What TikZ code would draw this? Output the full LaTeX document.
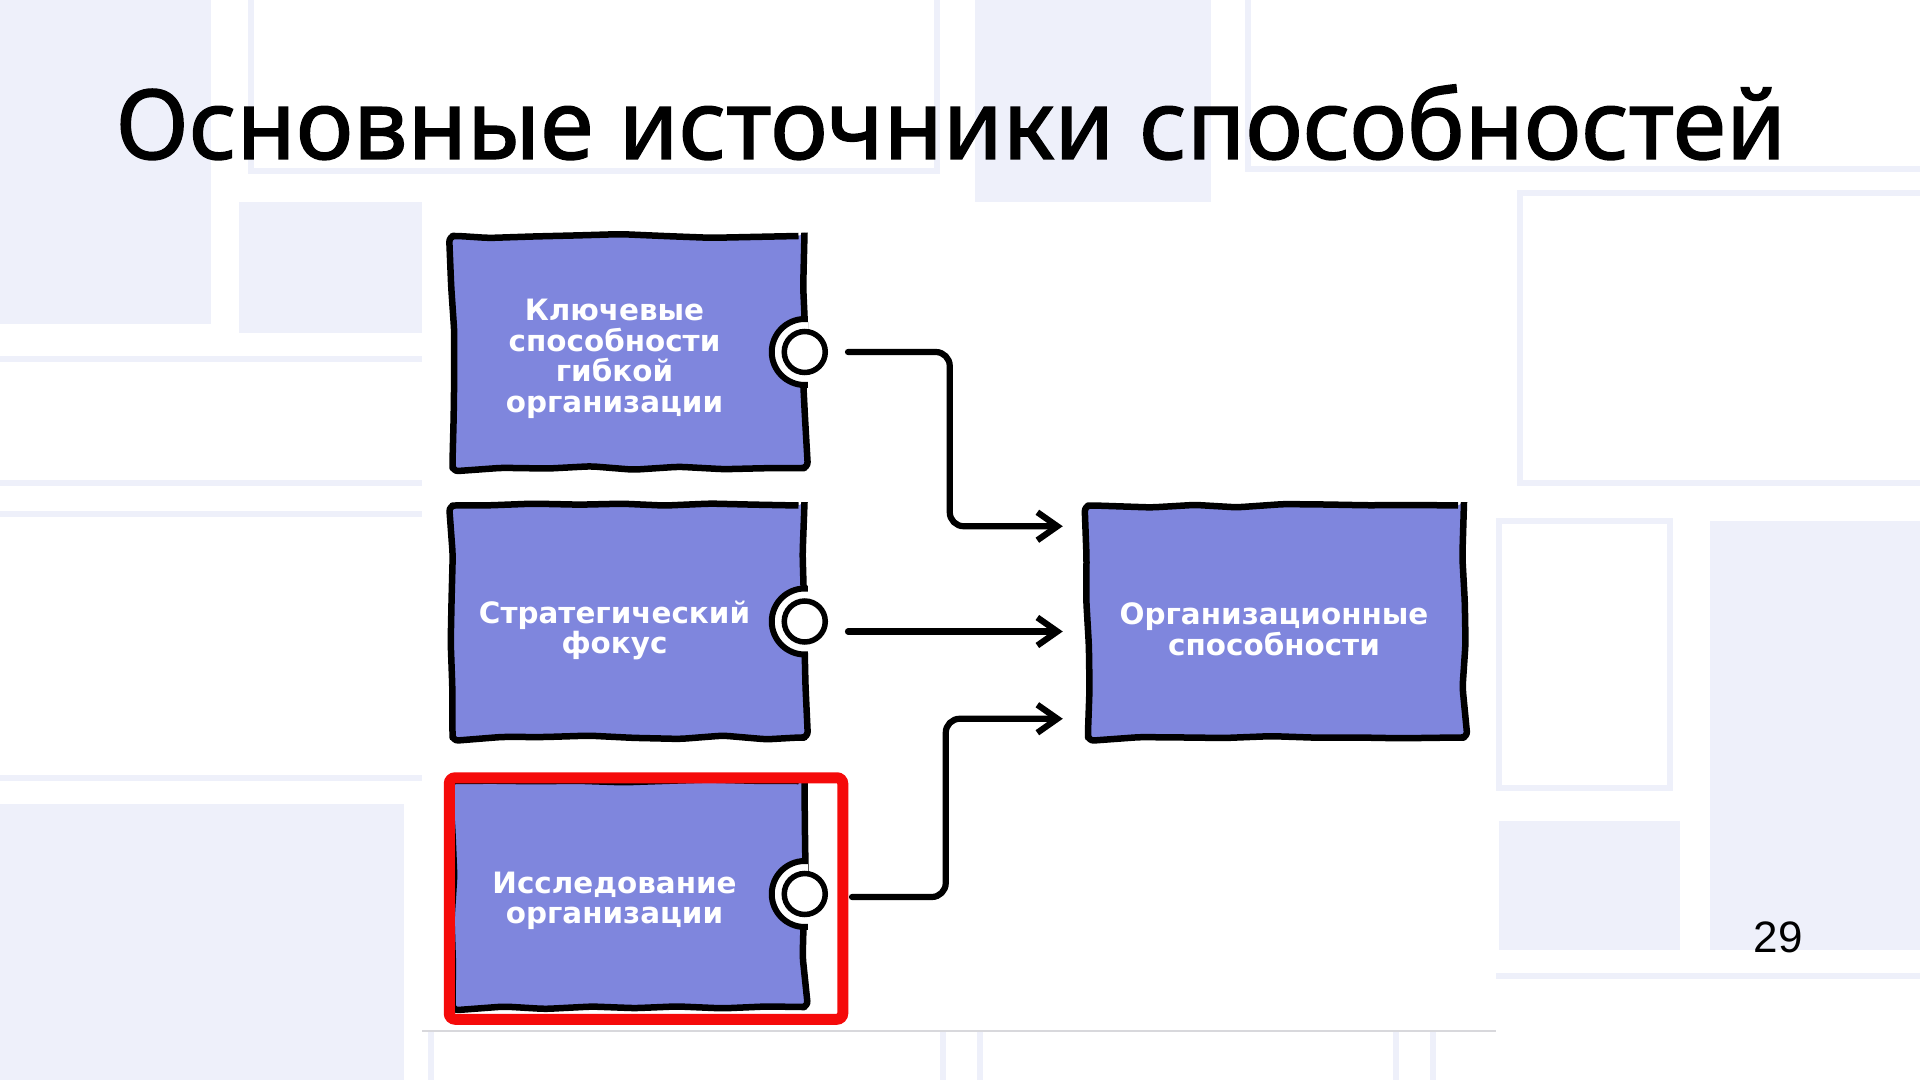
\documentclass[tikz,border=0pt]{standalone}
\usepackage{fontspec}
\setmainfont{DejaVu Sans}
\newfontfamily\titlefont{Noto Sans}[FakeBold=1.5]
\newfontfamily\numfont{Liberation Sans}
\usetikzlibrary{arrows.meta,positioning,decorations.pathmorphing}

\definecolor{cardblue}{HTML}{7F86DD}
\definecolor{bglav}{HTML}{EEF0FA}
\definecolor{markred}{HTML}{F50A0A}
\definecolor{panelgray}{HTML}{D8D8DC}

\begin{document}
\pgfmathsetseed{12}
\begin{tikzpicture}[
  x=0.5pt, y=-0.5pt,
  >={Straight Barb[length=10pt, width=14pt]},
  every node/.style={font=\bfseries\fontsize{14.7}{15.3}\selectfont},
  card/.style={draw, line width=3.25pt, fill=cardblue, minimum width=176pt,
               minimum height=116pt, line join=round,
               decorate, decoration={random steps, segment length=22pt, amplitude=1pt},
               rounded corners=3pt},
  cardtext/.style={text=white, align=center, inner sep=0pt},
  notch/.style={circle, fill=white, draw, line width=3pt, minimum size=33pt, inner sep=0pt},
  port/.style={circle, fill=white, draw, line width=2.75pt, minimum size=20.5pt, inner sep=0pt},
  link/.style={->, line width=3.1pt, rounded corners=7pt, line cap=round},
  bgfill/.style={fill=bglav},
  bgline/.style={draw=bglav, line width=3pt, line cap=round},
  highlight/.style={draw=markred, line width=5.5pt, rounded corners=3pt},
]
\useasboundingbox (0,0) rectangle (1920,1080);

% background pattern
\fill[white] (0,0) rectangle (1920,1080);
\fill[bgfill] (0,0) rectangle (211,324);
\fill[bgfill] (239,202) rectangle (422,333);
\fill[bgfill] (975,0) rectangle (1211,202);
\fill[bgfill] (1710,521) rectangle (1920,950);
\fill[bgfill] (1499,821) rectangle (1680,950);
\fill[bgfill] (0,804) rectangle (404,1080);
\draw[bgline] (251,0) -- (251,171) -- (937,171) -- (937,0);
\draw[bgline] (1248,0) -- (1248,169) -- (1920,169);
\draw[bgline] (1920,193) -- (1520,193) -- (1520,483) -- (1920,483);
\draw[bgline] (0,359) -- (422,359);
\draw[bgline] (0,483) -- (422,483);
\draw[bgline] (0,514) -- (422,514);
\draw[bgline] (0,778) -- (422,778);
\draw[bgline] (1499,521) rectangle (1670,788);
\draw[bgline] (1496,976) -- (1920,976);
\foreach \x in {431,943,980,1396,1433}
  \draw[bgline] (\x,1031) -- (\x,1080);

% white panel
\fill[white] (422,202) rectangle (1496,1031);
\draw[panelgray, line width=0.6pt] (422,1031) -- (1496,1031);

% title and page number
\node[font=\titlefont\fontsize{48.3}{54}\selectfont, anchor=base west, inner sep=0pt]
  (title) at (115,159) {Основные источники способностей};
\node[font=\numfont\fontsize{22}{24}\selectfont] (page) at (1778,937) {29};

% sources (left column)
\node[card] (key) at (628.5,352) {};
\node[card, below=15.5pt of key] (focus) {};
\node[card, below=18.5pt of focus, minimum height=113pt] (study) {};

% result
\node[card, right=138.5pt of focus, minimum width=188pt] (org) {};

% notches and ports
\foreach \n in {key, focus, study} {
  \begin{scope}
    \clip (\n.north west) rectangle (\n.south east);
    \node[notch] at ([xshift=-1.5pt]\n.east) {};
  \end{scope}
  \node[port] (\n-port) at ([xshift=-1.5pt]\n.east) {};
}

% box texts
\node[cardtext] (key-text) at ([xshift=-7pt, yshift=-3.5pt]key.center)
  {Ключевые\\способности\\гибкой\\организации};
\node[cardtext] (focus-text) at ([xshift=-7pt, yshift=-4.5pt]focus.center)
  {Стратегический\\фокус};
\node[cardtext] (study-text) at ([xshift=-7pt, yshift=-3.5pt]study.center)
  {Исследование\\организации};
\node[cardtext] (org-text) at ([xshift=-1pt, yshift=-4pt]org.center)
  {Организационные\\способности};

% arrow ends at the result
\coordinate (in-key) at ([xshift=-11pt, yshift=-12pt]org.north west);
\coordinate (in-focus) at ([xshift=-11pt, yshift=-5pt]org.west);
\coordinate (in-study) at ([xshift=-11pt, yshift=11pt]org.south west);

\draw[link] ([xshift=10pt]key-port.east) -| ([xshift=-56.5pt]in-key) -- (in-key);
\draw[link] ([xshift=10pt, yshift=-5pt]focus-port.east) -- (in-focus);
\draw[link] ([xshift=12pt, yshift=-1.5pt]study-port.east) -| ([xshift=-58.5pt]in-study) -- (in-study);

% highlight
\draw[highlight] (study.north west) rectangle ([xshift=17.5pt, yshift=-4.5pt]study.south east);

\end{tikzpicture}
\end{document}
